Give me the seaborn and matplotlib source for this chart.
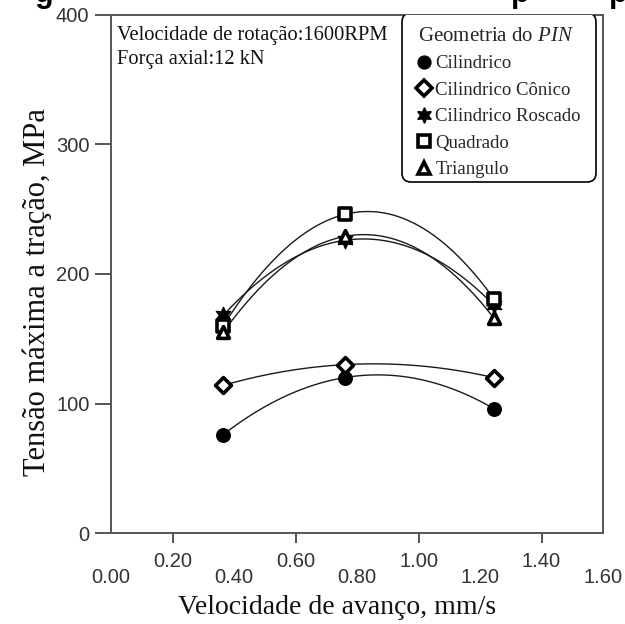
import numpy as np
import pandas as pd
import matplotlib
matplotlib.use("Agg")
import matplotlib.pyplot as plt
from matplotlib.lines import Line2D
from matplotlib.patches import FancyBboxPatch
from matplotlib.ticker import MultipleLocator, FormatStrFormatter
import seaborn as sns

# Feed rate (mm/s) and ultimate tensile strength (MPa) per pin geometry
avanco = [0.365, 0.76, 1.245]
geometrias = ["Cilindrico", "Cilindrico Cônico", "Cilindrico Roscado", "Quadrado", "Triangulo"]
cilindrico = [76, 120, 96]
cilindrico_conico = [114, 130, 120]
cilindrico_roscado = [168, 226, 176]
quadrado = [160, 246, 181]
triangulo = [155, 229, 166]

x_ticks = [0.00, 0.20, 0.40, 0.60, 0.80, 1.00, 1.20, 1.40, 1.60]
y_ticks = [0, 100, 200, 300, 400]

series = {
    "Cilindrico": cilindrico,
    "Cilindrico Cônico": cilindrico_conico,
    "Cilindrico Roscado": cilindrico_roscado,
    "Quadrado": quadrado,
    "Triangulo": triangulo,
}

df = pd.DataFrame(
    [(g, x, y) for g in geometrias for x, y in zip(avanco, series[g])],
    columns=["geometria", "avanco", "tensao"],
)

# marker, face colour, size, edge width
estilos = {
    "Cilindrico": ("o", "black", 95, 1.0),
    "Cilindrico Cônico": ("D", "white", 65, 2.6),
    "Cilindrico Roscado": ((6, 1, 0), "black", 140, 1.0),
    "Quadrado": ("s", "white", 70, 2.6),
    "Triangulo": ("^", "white", 72, 2.6),
}

sns.set_style("white")
plt.rcParams["font.family"] = ["Liberation Sans", "DejaVu Sans"]
plt.rcParams["mathtext.fontset"] = "custom"
plt.rcParams["mathtext.rm"] = "Liberation Serif"
plt.rcParams["mathtext.it"] = "Liberation Serif:italic"
serif = ["Liberation Serif", "DejaVu Serif"]

fig = plt.figure(figsize=(6.25, 6.24), dpi=100)
ax = fig.add_axes([0.1776, 0.1458, 0.9648 - 0.1776, 0.976 - 0.1458])

# Smooth second-order curves through each series
for g in geometrias:
    sub = df[df.geometria == g]
    coef = np.polyfit(sub.avanco, sub.tensao, 2)
    xs = np.linspace(sub.avanco.min(), sub.avanco.max(), 120)
    curva = pd.DataFrame({"avanco": xs, "tensao": np.polyval(coef, xs)})
    sns.lineplot(data=curva, x="avanco", y="tensao", ax=ax, color="#1a1a1a",
                 linewidth=1.0, sort=False, legend=False)

handles = []
for g in geometrias:
    m, fc, s, lw = estilos[g]
    sub = df[df.geometria == g]
    sns.scatterplot(data=sub, x="avanco", y="tensao", ax=ax, marker=m, s=s,
                    facecolor=fc, edgecolor="black", linewidth=lw, zorder=5,
                    legend=False)
    handles.append(Line2D([], [], linestyle="none", marker=m,
                          markersize=np.sqrt(s) * 0.95, markerfacecolor=fc,
                          markeredgecolor="black", markeredgewidth=lw,
                          label=g))

ax.set_xlim(0, 1.6)
ax.set_ylim(0, 400)

# Alternating long/short ticks with staggered labels
ax.xaxis.set_major_locator(MultipleLocator(0.4))
ax.xaxis.set_minor_locator(MultipleLocator(0.4, offset=0.2))
ax.xaxis.set_major_formatter(FormatStrFormatter("%.2f"))
ax.xaxis.set_minor_formatter(FormatStrFormatter("%.2f"))
ax.set_yticks(y_ticks)

ax.tick_params(axis="x", which="major", direction="out", length=13.5, width=1.4,
               pad=12, labelsize=14.5, colors="#555555", labelcolor="#333333")
ax.tick_params(axis="x", which="minor", direction="out", length=7, width=1.4,
               pad=7, labelsize=14.5, colors="#555555", labelcolor="#333333",
               bottom=True)
ax.tick_params(axis="y", which="major", direction="out", length=11.5, width=1.4,
               pad=4, labelsize=14.5, colors="#555555", labelcolor="#333333",
               left=True)

for sp in ax.spines.values():
    sp.set_color("#555555")
    sp.set_linewidth(1.4)

ax.set_xlabel("Velocidade de avanço, mm/s", family=serif, fontsize=20,
              color="#111111")
ax.xaxis.set_label_coords(0.459, -0.12)
ax.set_ylabel("Tensão máxima a tração, MPa", family=serif, fontsize=22,
              color="#111111")
ax.yaxis.set_label_coords(-0.12, 0.465)

ax.text(0.012, 0.978, "Velocidade de rotação:1600RPM\nForça axial:12 kN",
        transform=ax.transAxes, ha="left", va="top", family=serif,
        fontsize=14.8, linespacing=1.35, color="#111111")

leg = ax.legend(handles=handles, loc="upper right", bbox_to_anchor=(0.9835, 1.004),
                title="Geometria do $\\it{PIN}$", frameon=False,
                handlelength=0.7, handletextpad=0.25,
                borderpad=0.75, labelspacing=0.5, borderaxespad=0,
                prop={"family": serif, "size": 13.5})
leg.get_title().set_fontfamily(serif)
leg.get_title().set_fontsize(15)
leg._legend_box.align = "left"
leg.set_zorder(7)

# Rounded legend frame, sized in figure inches
caixa = FancyBboxPatch((4.02, (624 - 182) / 100), 1.94, 1.69,
                       boxstyle="round,pad=0,rounding_size=0.09",
                       transform=fig.dpi_scale_trans, facecolor="white",
                       edgecolor="black", linewidth=1.2, zorder=6)
ax.add_artist(caixa)

# Descenders of the caption line cut by the top edge
for xf, ch in [(44 / 625, "g"), (520 / 625, "p"), (618 / 625, "p")]:
    fig.text(xf, 1 - 2 / 624, ch, ha="center", va="baseline", fontsize=22,
             fontweight="bold", color="black")

fig.savefig("out.png", dpi=100)
